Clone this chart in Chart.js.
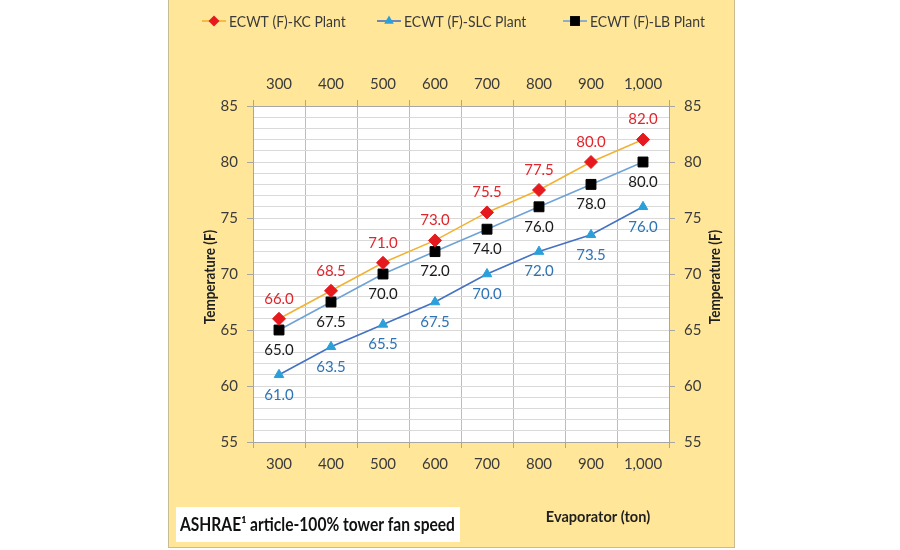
<!DOCTYPE html>
<html><head><meta charset="utf-8">
<script src="https://cdn.jsdelivr.net/npm/chart.js@4/dist/chart.umd.min.js"></script>
<style>html,body{margin:0;padding:0;background:#fff}#wrap{width:900px;height:550px;position:relative}canvas{display:block}</style>
</head><body><div id="wrap"><canvas id="c" width="900" height="550"></canvas></div>
<script>
// ---- data ----
const categories = ['300','400','500','600','700','800','900','1,000'];
const kcPlant  = [66.0, 68.5, 71.0, 73.0, 75.5, 77.5, 80.0, 82.0];
const slcPlant = [61.0, 63.5, 65.5, 67.5, 70.0, 72.0, 73.5, 76.0];
const lbPlant  = [65.0, 67.5, 70.0, 72.0, 74.0, 76.0, 78.0, 80.0];
const seriesNames = ['ECWT (F)-KC Plant', 'ECWT (F)-SLC Plant', 'ECWT (F)-LB Plant'];
const yMin = 55, yMax = 85, yStep = 1, yLabelEvery = 5;
const yTitle = 'Temperature (F)';
const xTitle = 'Evaporator (ton)';
const noteText = 'ASHRAE\u00B9 article-100% tower fan speed';

// ---- styles ----
const FONT = 'Lato, "Open Sans", sans-serif';
const TXT = '#3b3b3b';
const styles = [
  {line:'#F2B233', point:'#E5191E', shape:'rectRot', r:6.5, label:'#E0262C', dy:-20},
  {line:'#4472C4', point:'#2B9FDA', shape:'triangle', r:5.5, label:'#2E74B5', dy:20},
  {line:'#6FA2D6', point:'#000000', shape:'rect', r:7, label:'#1a1a1a', dy:20}
];
const seriesData = [kcPlant, slcPlant, lbPlant];

const datasets = seriesData.map((d, i) => ({
  label: seriesNames[i],
  data: d,
  xAxisID: 'x', yAxisID: 'y',
  borderColor: styles[i].line,
  borderWidth: 1.6,
  backgroundColor: styles[i].point,
  pointBackgroundColor: styles[i].point,
  pointBorderColor: styles[i].point,
  pointBorderWidth: 1,
  pointStyle: styles[i].shape,
  pointRadius: styles[i].r,
  pointHoverRadius: styles[i].r,
  tension: 0,
  fill: false
}));

function drawMarker(ctx, shape, x, y, r, color) {
  ctx.save();
  ctx.fillStyle = color;
  ctx.beginPath();
  if (shape === 'rectRot') {
    ctx.moveTo(x, y - r); ctx.lineTo(x + r, y); ctx.lineTo(x, y + r); ctx.lineTo(x - r, y);
  } else if (shape === 'triangle') {
    ctx.moveTo(x, y - r); ctx.lineTo(x + r * 0.87, y + r * 0.5); ctx.lineTo(x - r * 0.87, y + r * 0.5);
  } else {
    const s = r * Math.SQRT1_2;
    ctx.rect(x - s, y - s, 2 * s, 2 * s);
  }
  ctx.closePath();
  ctx.fill();
  ctx.restore();
}

function narrowText(ctx, text, x, y, sx) {
  ctx.save();
  ctx.translate(x, y);
  ctx.scale(sx, 1);
  ctx.fillText(text, 0, 0);
  ctx.restore();
}

const decor = {
  id: 'decor',
  beforeDraw(chart) {
    const ctx = chart.ctx, a = chart.chartArea;
    ctx.save();
    ctx.fillStyle = '#ffffff';
    ctx.fillRect(0, 0, chart.width, chart.height);
    ctx.fillStyle = '#FFE699';
    ctx.fillRect(168, 0, 566, 548);
    ctx.strokeStyle = '#C9BC93';
    ctx.lineWidth = 1;
    ctx.strokeRect(168.5, -1, 566, 548.5);
    ctx.fillStyle = '#ffffff';
    ctx.fillRect(a.left, a.top, a.right - a.left, a.bottom - a.top);
    ctx.restore();
  },
  afterDatasetsDraw(chart) {
    const ctx = chart.ctx;
    ctx.save();
    ctx.font = '15px ' + FONT;
    ctx.textAlign = 'center';
    ctx.textBaseline = 'middle';
    chart.data.datasets.forEach((ds, i) => {
      const meta = chart.getDatasetMeta(i);
      ctx.fillStyle = styles[i].label;
      meta.data.forEach((pt, j) => {
        ctx.fillText(ds.data[j].toFixed(1), pt.x, pt.y + styles[i].dy);
      });
    });
    ctx.restore();
  },
  afterDraw(chart) {
    const ctx = chart.ctx, a = chart.chartArea;
    ctx.save();
    // legend
    const legendX = [202, 377, 563];
    ctx.font = '15.5px ' + FONT;
    ctx.textBaseline = 'middle';
    ctx.textAlign = 'left';
    chart.data.datasets.forEach((ds, i) => {
      const x0 = legendX[i], y0 = 21;
      ctx.strokeStyle = styles[i].line;
      ctx.lineWidth = 1.6;
      ctx.beginPath(); ctx.moveTo(x0, y0); ctx.lineTo(x0 + 24, y0); ctx.stroke();
      drawMarker(ctx, styles[i].shape, x0 + 12, y0, styles[i].shape === 'rect' ? 7 : 5.5, styles[i].point);
      ctx.fillStyle = TXT;
      narrowText(ctx, ds.label, x0 + 27, y0 + 1, 0.9);
    });
    // axis titles
    ctx.fillStyle = '#1f1f1f';
    ctx.font = 'bold 15px ' + FONT;
    ctx.textAlign = 'center';
    const cy = (a.top + a.bottom) / 2 + 3;
    [210, 715].forEach(x => {
      ctx.save();
      ctx.translate(x, cy);
      ctx.rotate(-Math.PI / 2);
      ctx.scale(0.9, 1);
      ctx.fillText(yTitle, 0, 0);
      ctx.restore();
    });
    narrowText(ctx, xTitle, 598, 517, 0.97);
    // note box
    ctx.fillStyle = '#ffffff';
    ctx.fillRect(176, 507, 284, 35);
    ctx.fillStyle = '#111111';
    ctx.font = 'bold 18px ' + FONT;
    ctx.textAlign = 'left';
    narrowText(ctx, noteText, 180, 525, 0.865);
    ctx.restore();
  }
};

const tickFont = {family: FONT, size: 15};
const yTickCb = v => (v % yLabelEvery === 0 ? String(v) : '');
const yTickColor = c => (c.tick && c.tick.value % yLabelEvery === 0 ? '#A6A6A6' : 'rgba(0,0,0,0)');

new Chart(document.getElementById('c'), {
  type: 'line',
  data: {labels: categories, datasets},
  options: {
    responsive: false,
    animation: false,
    devicePixelRatio: 1,
    layout: {padding: {left: 170, right: 166, top: 66, bottom: 48}},
    plugins: {legend: {display: false}, tooltip: {enabled: false}, title: {display: false}},
    scales: {
      x: {
        type: 'category', position: 'bottom', offset: true,
        grid: {offset: true, color: '#BDBDBD', tickLength: 6, tickColor: '#A6A6A6'},
        border: {color: '#A6A6A6'},
        ticks: {color: TXT, font: tickFont, padding: 7, maxRotation: 0, autoSkip: false},
        afterFit(s) { s.height = 60; }
      },
      x2: {
        type: 'category', labels: categories, position: 'top', offset: true,
        grid: {offset: true, drawOnChartArea: false, tickLength: 6, tickColor: '#A6A6A6'},
        border: {color: '#A6A6A6'},
        ticks: {color: TXT, font: tickFont, padding: 7, maxRotation: 0, autoSkip: false},
        afterFit(s) { s.height = 40; }
      },
      y: {
        type: 'linear', position: 'left', min: yMin, max: yMax,
        grid: {color: '#D9D9D9', tickLength: 6, tickColor: yTickColor},
        border: {color: '#A6A6A6'},
        ticks: {stepSize: yStep, autoSkip: false, callback: yTickCb, color: TXT, font: tickFont, padding: 9},
        afterFit(s) { s.width = 83; }
      },
      y2: {
        type: 'linear', position: 'right', min: yMin, max: yMax,
        grid: {drawOnChartArea: false, tickLength: 6, tickColor: yTickColor},
        border: {color: '#A6A6A6'},
        ticks: {stepSize: yStep, autoSkip: false, callback: yTickCb, color: TXT, font: tickFont, padding: 9},
        afterFit(s) { s.width = 65; }
      }
    }
  },
  plugins: [decor]
});
</script>
</body></html>
